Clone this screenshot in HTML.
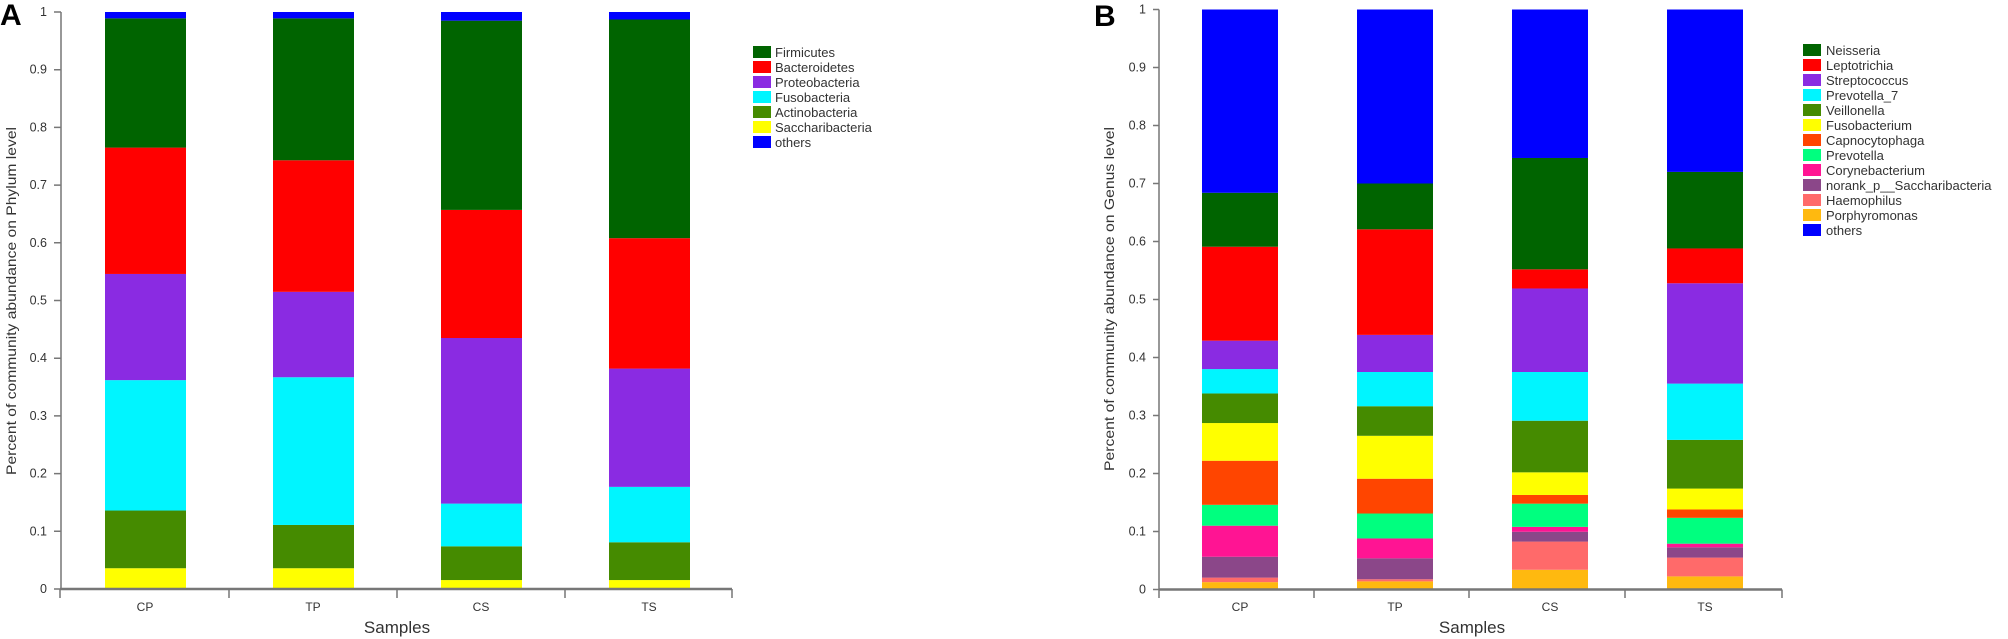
<!DOCTYPE html>
<html><head><meta charset="utf-8"><style>
html,body{margin:0;padding:0;background:#fff;width:2008px;height:639px;overflow:hidden}
text{font-family:"Liberation Sans",sans-serif;fill:#333}
</style></head><body>
<svg id="s" width="2008" height="639" xmlns="http://www.w3.org/2000/svg">
<g id="bars"></g>
<g stroke="#777" stroke-width="1.5" fill="none">
<path d="M61,12V589M54,589H61M54,531.3H61M54,473.6H61M54,415.9H61M54,358.2H61M54,300.5H61M54,242.8H61M54,185.1H61M54,127.4H61M54,69.7H61M54,12H61"/>
<path d="M60,589H732" stroke-width="2.5"/>
<path d="M60,589V598M229,589V598M397,589V598M565,589V598M732,589V598"/>
<path d="M1159,9.5V589.5M1153,589.5H1159M1153,531.5H1159M1153,473.5H1159M1153,415.5H1159M1153,357.5H1159M1153,299.5H1159M1153,241.5H1159M1153,183.5H1159M1153,125.5H1159M1153,67.5H1159M1153,9.5H1159"/>
<path d="M1159,589.5H1782" stroke-width="2.5"/>
<path d="M1159,589.5V598M1314,589.5V598M1469,589.5V598M1625,589.5V598M1782,589.5V598"/>
</g>
<g font-size="12.5" text-anchor="end">
<text x="47" y="593">0</text><text x="47" y="535.3">0.1</text><text x="47" y="477.6">0.2</text><text x="47" y="419.9">0.3</text><text x="47" y="362.2">0.4</text><text x="47" y="304.5">0.5</text><text x="47" y="246.8">0.6</text><text x="47" y="189.1">0.7</text><text x="47" y="131.4">0.8</text><text x="47" y="73.7">0.9</text><text x="47" y="16">1</text>
<text x="1146" y="593.5">0</text><text x="1146" y="535.5">0.1</text><text x="1146" y="477.5">0.2</text><text x="1146" y="419.5">0.3</text><text x="1146" y="361.5">0.4</text><text x="1146" y="303.5">0.5</text><text x="1146" y="245.5">0.6</text><text x="1146" y="187.5">0.7</text><text x="1146" y="129.5">0.8</text><text x="1146" y="71.5">0.9</text><text x="1146" y="13.5">1</text>
</g>
<g font-size="12" text-anchor="middle">
<text x="145" y="611">CP</text><text x="313" y="611">TP</text><text x="481" y="611">CS</text><text x="649" y="611">TS</text>
<text x="1240" y="611">CP</text><text x="1395" y="611">TP</text><text x="1550" y="611">CS</text><text x="1705" y="611">TS</text>
</g>
<g font-size="17" text-anchor="middle">
<text x="397" y="633">Samples</text><text x="1472" y="633">Samples</text>
</g>
<text font-size="14" transform="translate(16,301) rotate(-90)" text-anchor="middle" textLength="348" lengthAdjust="spacingAndGlyphs">Percent of community abundance on Phylum level</text>
<text font-size="14" transform="translate(1114,299) rotate(-90)" text-anchor="middle" textLength="344" lengthAdjust="spacingAndGlyphs">Percent of community abundance on Genus level</text>
<text x="0" y="25" font-size="30" font-weight="bold" style="fill:#000">A</text>
<text x="1094" y="26" font-size="30" font-weight="bold" style="fill:#000">B</text>
<g id="leg" font-size="13"></g>
</svg>
<script>
var ns="http://www.w3.org/2000/svg",bars=document.getElementById('bars'),leg=document.getElementById('leg');
function R(x,y,w,h,c,p){var r=document.createElementNS(ns,'rect');r.setAttribute('x',x);r.setAttribute('y',y);r.setAttribute('width',w);r.setAttribute('height',h);r.setAttribute('fill',c);(p||bars).appendChild(r);}
var cA=['#FFFF00','#458B00','#00F5FF','#8A2BE2','#FF0000','#006400','#0000FF'];
var dA=[[0.036,0.136,0.362,0.546,0.765,0.989,1],[0.036,0.111,0.367,0.515,0.743,0.989,1],[0.0155,0.074,0.148,0.435,0.657,0.985,1],[0.0155,0.081,0.177,0.382,0.608,0.987,1]];
var xA=[105,273,441,609];
dA.forEach(function(d,i){var prev=0;d.forEach(function(v,j){var y1=589-prev*577,y2=589-v*577;R(xA[i],y2,81,y1-y2,cA[j]);prev=v;});});
var cB=['#FFB90F','#FF6A6A','#8B4789','#FF1493','#00FF7F','#FF4500','#FFFF00','#458B00','#00F5FF','#8A2BE2','#FF0000','#006400','#0000FF'];
var dB=[[0.0127,0.0205,0.0565,0.110,0.146,0.222,0.287,0.338,0.380,0.429,0.591,0.684,1],
[0.014,0.0177,0.0537,0.088,0.131,0.191,0.265,0.316,0.375,0.439,0.621,0.70,1],
[0.034,0.0826,0.0996,0.108,0.148,0.163,0.202,0.291,0.375,0.519,0.552,0.744,1],
[0.0226,0.055,0.0727,0.079,0.1236,0.138,0.174,0.258,0.355,0.528,0.588,0.72,1]];
var xB=[1202,1357,1512,1667];
dB.forEach(function(d,i){var prev=0;d.forEach(function(v,j){var y1=589.5-prev*580,y2=589.5-v*580;R(xB[i],y2,76,y1-y2,cB[j]);prev=v;});});
var lA=['#006400','#FF0000','#8A2BE2','#00F5FF','#458B00','#FFFF00','#0000FF'];
lA.forEach(function(c,i){R(753,46+i*15,18,12,c,leg);});
var lB=['#006400','#FF0000','#8A2BE2','#00F5FF','#458B00','#FFFF00','#FF4500','#00FF7F','#FF1493','#8B4789','#FF6A6A','#FFB90F','#0000FF'];
lB.forEach(function(c,i){R(1803,44+i*15,18,12,c,leg);});
</script>
<svg width="2008" height="639" style="position:absolute;left:0;top:0" xmlns="http://www.w3.org/2000/svg">
<g font-size="13" style="font-family:'Liberation Sans',sans-serif" fill="#333">
<text x="775" y="57">Firmicutes</text><text x="775" y="72">Bacteroidetes</text><text x="775" y="87">Proteobacteria</text><text x="775" y="102">Fusobacteria</text><text x="775" y="117">Actinobacteria</text><text x="775" y="132">Saccharibacteria</text><text x="775" y="147">others</text>
<text x="1826" y="55">Neisseria</text><text x="1826" y="70">Leptotrichia</text><text x="1826" y="85">Streptococcus</text><text x="1826" y="100">Prevotella_7</text><text x="1826" y="115">Veillonella</text><text x="1826" y="130">Fusobacterium</text><text x="1826" y="145">Capnocytophaga</text><text x="1826" y="160">Prevotella</text><text x="1826" y="175">Corynebacterium</text><text x="1826" y="190">norank_p__Saccharibacteria</text><text x="1826" y="205">Haemophilus</text><text x="1826" y="220">Porphyromonas</text><text x="1826" y="235">others</text>
</g></svg>
</body></html>
